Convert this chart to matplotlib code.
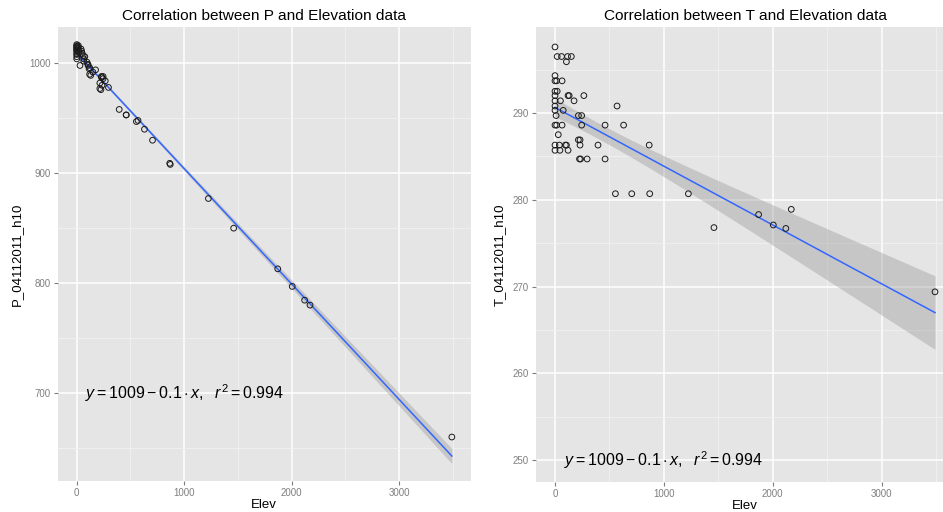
import numpy as np
import matplotlib
matplotlib.use("Agg")
import matplotlib.pyplot as plt
from matplotlib.ticker import FixedLocator

plt.rcParams['font.family'] = ['Liberation Sans', 'DejaVu Sans']
plt.rcParams['mathtext.fontset'] = 'custom'
plt.rcParams['mathtext.rm'] = 'Liberation Sans'
plt.rcParams['mathtext.it'] = 'Liberation Sans:italic'

# ---- data ----
elev = [0, 20, 60, 115, 150, 105, 0, 0, 15, 65,
        0, 20, 120, 130, 265, 0, 0, 50, 175, 0,
        570, 0, 75, 10, 215, 245, 0, 15, 65, 245,
        460, 630, 30, 215, 230, 0, 40, 95, 105, 230,
        395, 865, 0, 45, 120, 225, 235, 295, 460, 555,
        705, 870, 1225, 1460, 1870, 2005, 2120, 2170, 3490]
pres = [1016, 1012, 1007, 995, 992, 998, 1015, 1013, 1014, 1002,
        1011, 1010, 996, 989, 984, 1017, 1009, 1009, 994, 1012,
        948, 1006, 1006, 1015, 977, 988, 1014, 1016, 1004, 986,
        953, 940, 998, 982, 987, 1008, 1013, 1001, 999, 988,
        958, 909, 1004, 1011, 990, 976, 980, 978, 953, 947,
        930, 908, 877, 850, 813, 797, 784.5, 780, 660]
temp = [297.6, 296.5, 296.5, 296.5, 296.5, 295.9, 294.3, 293.7, 293.7, 293.7,
        292.5, 292.5, 292.0, 292.0, 292.0, 292.0, 291.4, 291.4, 291.4, 290.8,
        290.8, 290.3, 290.3, 289.7, 289.7, 289.7, 288.6, 288.6, 288.6, 288.6,
        288.6, 288.6, 287.5, 286.9, 286.9, 286.3, 286.3, 286.3, 286.3, 286.3,
        286.3, 286.3, 285.7, 285.7, 285.7, 284.7, 284.7, 284.7, 284.7, 280.7,
        280.7, 280.7, 280.7, 276.8, 278.3, 277.1, 276.7, 278.9, 269.4]

titles = ["Correlation between P and Elevation data",
          "Correlation between T and Elevation data"]
ylabels = ["P_04112011_h10", "T_04112011_h10"]
xlabel = "Elev"
eq_text = r"$y = 1009 - 0.1 \cdot x,\ \ r^2 = 0.994$"
eq_pos = [(1000, 700), (1000, 250)]
x_major = [0, 1000, 2000, 3000]
x_minor = [500, 1500, 2500, 3500]
y_major = [[700, 800, 900, 1000], [250, 260, 270, 280, 290]]
y_minor = [[650, 750, 850, 950], [255, 265, 275, 285, 295]]
ylims = [(620, 1033), (247.5, 299.9)]
T_QUANT = 2.0025  # 95% t quantile, df = n - 2

BG = '#E5E5E5'
GREY = '#7F7F7F'

fig = plt.figure(figsize=(9.43, 5.12), dpi=100)
ax1 = fig.add_axes([58/943, 31/512, (470.6-58)/943, 454/512])
ax2 = fig.add_axes([536/943, 30/512, (954-536)/943, 455/512])

x = np.array(elev, dtype=float)
for i, (ax, yv) in enumerate(zip([ax1, ax2], [pres, temp])):
    y = np.array(yv, dtype=float)
    ax.set_facecolor(BG)
    for s in ax.spines.values():
        s.set_visible(False)
    ax.set_xlim(-174.5, 3664.5)
    ax.set_ylim(*ylims[i])
    ax.xaxis.set_major_locator(FixedLocator(x_major))
    ax.xaxis.set_minor_locator(FixedLocator(x_minor))
    ax.yaxis.set_major_locator(FixedLocator(y_major[i]))
    ax.yaxis.set_minor_locator(FixedLocator(y_minor[i]))
    ax.grid(which='major', color='white', lw=1.1)
    ax.grid(which='minor', color='#F2F2F2', lw=0.6)
    ax.set_axisbelow(True)
    ax.tick_params(which='major', length=3, width=0.8, color=GREY,
                   labelcolor=GREY, labelsize=7, pad=2)
    ax.tick_params(which='minor', length=0)

    # linear fit with 95% confidence band
    n = len(x)
    b, a = np.polyfit(x, y, 1)
    xs = np.linspace(x.min(), x.max(), 200)
    ys = a + b * xs
    resid = y - (a + b * x)
    s = np.sqrt(np.sum(resid**2) / (n - 2))
    sxx = np.sum((x - x.mean())**2)
    se = s * np.sqrt(1.0/n + (xs - x.mean())**2 / sxx)
    ax.fill_between(xs, ys - T_QUANT*se, ys + T_QUANT*se,
                    color='#999999', alpha=0.4, lw=0, zorder=2)
    ax.plot(xs, ys, color='#3366FF', lw=1.1, zorder=3)

    ax.scatter(x, y, s=17, facecolors='none', edgecolors='#1a1a1a',
               linewidths=0.7, zorder=4)

    ax.text(eq_pos[i][0], eq_pos[i][1], eq_text, ha='center', va='center',
            fontsize=11.5, color='black', zorder=5)

    ax.set_title(titles[i], fontsize=11.1, pad=5)
    ax.set_xlabel(xlabel, fontsize=9.5, labelpad=1)
    ax.set_ylabel(ylabels[i], fontsize=9.5, labelpad=5)

fig.savefig('out.png', dpi=100)
